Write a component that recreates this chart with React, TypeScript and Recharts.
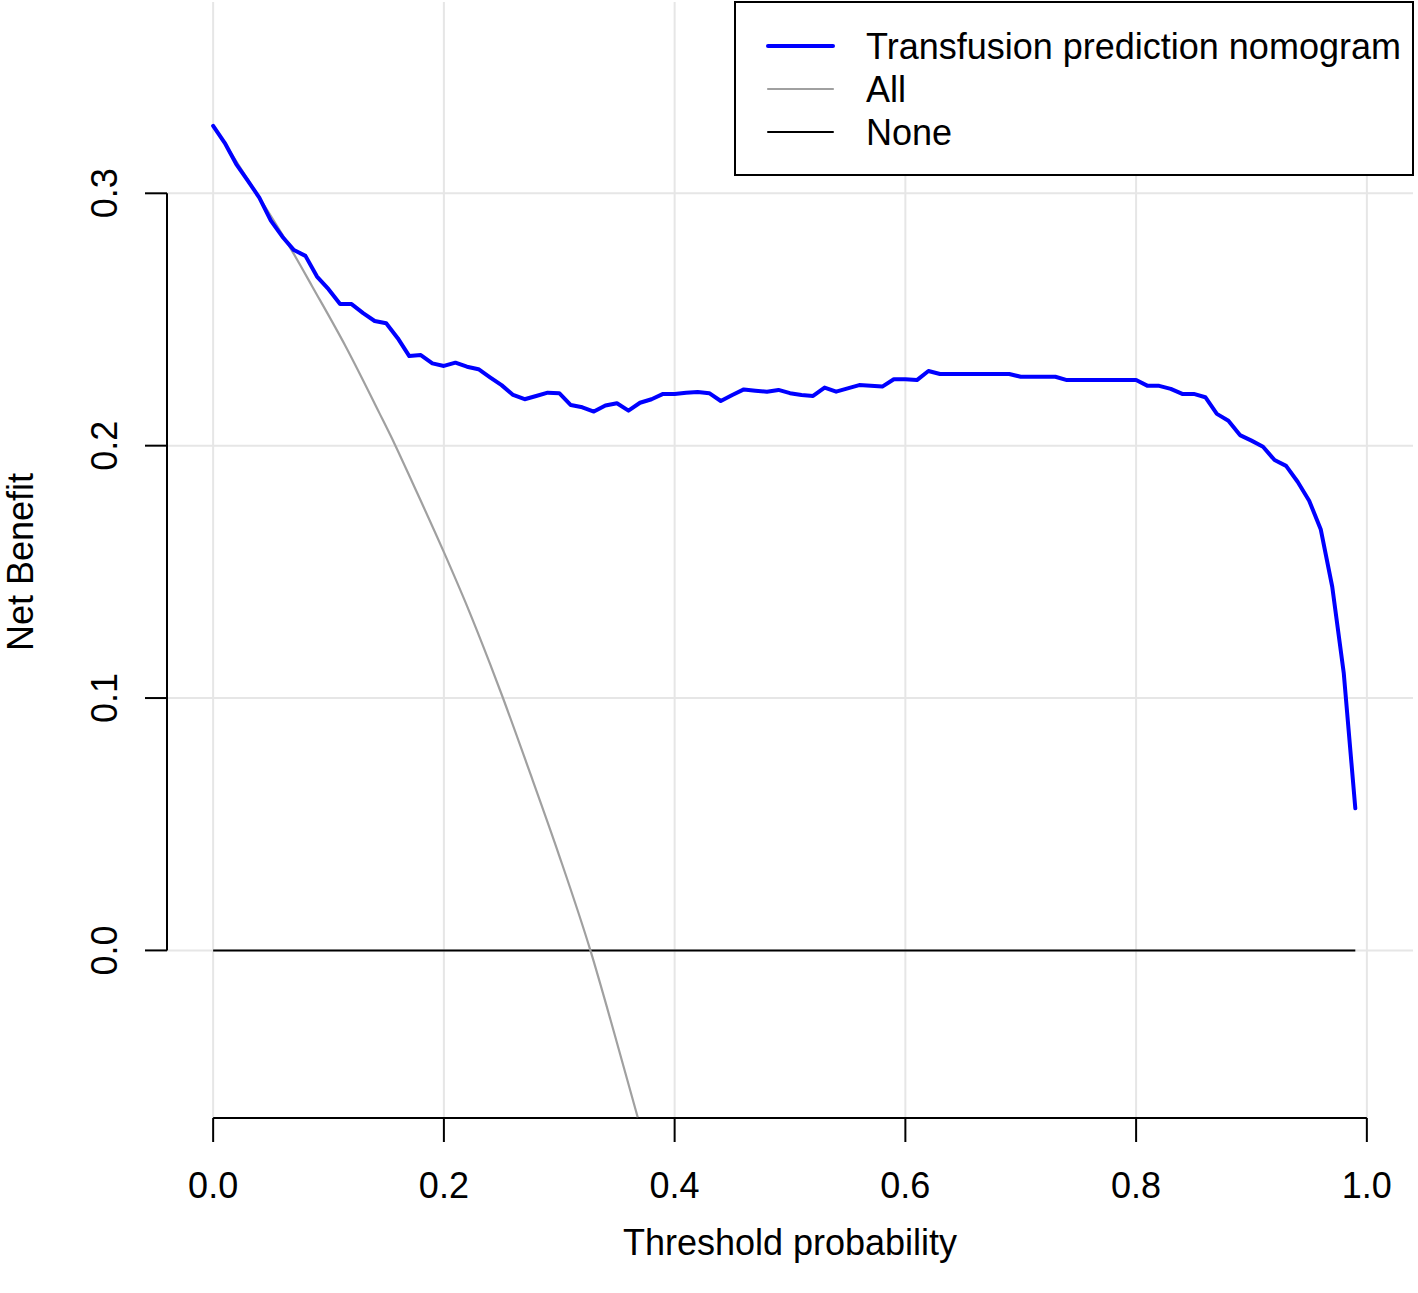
import React from "react"
import {
  LineChart,
  Line,
  XAxis,
  YAxis,
  CartesianGrid,
  ReferenceLine,
  Legend
} from "recharts"

const FONT = "'Liberation Sans', Arial, Helvetica, sans-serif"

// threshold probabilities 0.00 .. 0.99
const THRESHOLDS = Array.from({ length: 100 }, (_, i) => i / 100)

// net benefit of the nomogram
const NOMOGRAM_NB = [
  0.3267, 0.3200, 0.3116, 0.3050, 0.2983, 0.2892, 0.2828, 0.2775, 0.2752, 0.2670,
  0.2620, 0.2561, 0.2561, 0.2525, 0.2494, 0.2485, 0.2426, 0.2355, 0.2359, 0.2326,
  0.2316, 0.2329, 0.2313, 0.2303, 0.2271, 0.2240, 0.2201, 0.2184, 0.2197, 0.2210,
  0.2208, 0.2161, 0.2152, 0.2135, 0.2159, 0.2168, 0.2139, 0.2170, 0.2184, 0.2205,
  0.2205, 0.2210, 0.2213, 0.2208, 0.2177, 0.2201, 0.2223, 0.2218, 0.2214, 0.2221,
  0.2208, 0.2201, 0.2197, 0.2230, 0.2214, 0.2227, 0.2240, 0.2237, 0.2234, 0.2263,
  0.2263, 0.2260, 0.2296, 0.2284, 0.2284, 0.2284, 0.2284, 0.2284, 0.2284, 0.2284,
  0.2273, 0.2273, 0.2273, 0.2273, 0.2260, 0.2260, 0.2260, 0.2260, 0.2260, 0.2260,
  0.2260, 0.2237, 0.2237, 0.2225, 0.2205, 0.2205, 0.2192, 0.2126, 0.2099, 0.2042,
  0.2020, 0.1996, 0.1943, 0.1920, 0.1857, 0.1782, 0.1669, 0.1441, 0.1098, 0.0563,
]

// treat-all curve, sampled where it could be read
const ALL_PTS = [0, 0.03, 0.068, 0.086, 0.115, 0.144, 0.158, 0.173, 0.2, 0.22, 0.24, 0.25, 0.274, 0.3, 0.327, 0.348, 0.368]
const ALL_NB = [0.327, 0.3055, 0.2775, 0.263, 0.2392, 0.213, 0.2, 0.1851, 0.1578, 0.1365, 0.1135, 0.1015, 0.0712, 0.0375, 0, -0.0333, -0.0661]

// treat-none
const NONE_PTS = [0, 0.99]
const NONE_NB = [0, 0]

const X_TICKS = [0, 0.2, 0.4, 0.6, 0.8, 1]
const Y_TICKS = [0, 0.1, 0.2, 0.3]
const X_DOMAIN: [number, number] = [-0.04, 1.04]
const Y_DOMAIN: [number, number] = [-0.0664, 0.3758]

const LEGEND_ORDER = ["Transfusion prediction nomogram", "All", "None"]
const LEGEND_WIDTHS: Record<string, number> = {
  "Transfusion prediction nomogram": 4,
  All: 2.2,
  None: 2
}

const nomogramData = THRESHOLDS.map((pt, i) => ({ pt, nb: NOMOGRAM_NB[i] }))
const allData = ALL_PTS.map((pt, i) => ({ pt, nb: ALL_NB[i] }))
const noneData = NONE_PTS.map((pt, i) => ({ pt, nb: NONE_NB[i] }))

const XTick = (props: any) => {
  const { x, y, payload } = props
  return (
    <text x={x} y={y} dy="0.71em" textAnchor="middle" fontSize={36} fontFamily={FONT} fill="#000">
      {Number(payload.value).toFixed(1)}
    </text>
  )
}

const YTick = (props: any) => {
  const { x, y, payload } = props
  return (
    <text
      x={x}
      y={y}
      transform={`rotate(-90, ${x}, ${y})`}
      textAnchor="middle"
      fontSize={36}
      fontFamily={FONT}
      fill="#000"
    >
      {Number(payload.value).toFixed(1)}
    </text>
  )
}

const renderLegend = (props: any) => {
  const items = [...(props.payload || [])].sort(
    (a, b) => LEGEND_ORDER.indexOf(a.value) - LEGEND_ORDER.indexOf(b.value)
  )
  return (
    <svg width={680} height={176} style={{ display: "block" }}>
      <rect x={1} y={1} width={678} height={173} fill="#fff" stroke="#000" strokeWidth={2} />
      {items.map((item: any, i: number) => {
        const cy = 45 + i * 43
        return (
          <g key={item.value}>
            <line
              x1={34}
              x2={99}
              y1={cy}
              y2={cy}
              stroke={item.color}
              strokeWidth={LEGEND_WIDTHS[item.value] ?? 2}
              strokeLinecap="round"
            />
            <text x={132} y={cy} dy={13} fontSize={36} fontFamily={FONT} fill="#000">
              {item.value}
            </text>
          </g>
        )
      })}
    </svg>
  )
}

export default function App() {
  return (
    <div style={{ position: "absolute", left: 0, top: 0, width: 1418, height: 1293, background: "#fff" }}>
      <LineChart width={1418} height={1293} margin={{ top: 2, right: 5, left: 0, bottom: 0 }}>
        <CartesianGrid stroke="#e6e6e6" strokeWidth={2} syncWithTicks />
        <XAxis
          type="number"
          dataKey="pt"
          domain={X_DOMAIN}
          ticks={X_TICKS}
          allowDataOverflow
          height={175}
          axisLine={false}
          tickSize={24}
          tickMargin={30}
          tickLine={{ stroke: "#000", strokeWidth: 2 }}
          tick={<XTick />}
          label={{
            content: (p: any) => {
              const vb = p.viewBox || { x: 167, y: 1118, width: 1246 }
              return (
                <text
                  x={vb.x + vb.width / 2}
                  y={vb.y + 137}
                  textAnchor="middle"
                  fontSize={36}
                  fontFamily={FONT}
                  fill="#000"
                >
                  Threshold probability
                </text>
              )
            }
          }}
        />
        <YAxis
          type="number"
          domain={Y_DOMAIN}
          ticks={Y_TICKS}
          allowDataOverflow
          width={167}
          axisLine={false}
          tickSize={22}
          tickMargin={28}
          tickLine={{ stroke: "#000", strokeWidth: 2 }}
          tick={<YTick />}
          label={{
            content: (p: any) => {
              const vb = p.viewBox || { x: 0, y: 2, height: 1116 }
              const cx = vb.x + 33
              const cy = vb.y + vb.height / 2 + 2
              return (
                <text
                  x={cx}
                  y={cy}
                  transform={`rotate(-90, ${cx}, ${cy})`}
                  textAnchor="middle"
                  fontSize={36}
                  fontFamily={FONT}
                  fill="#000"
                >
                  Net Benefit
                </text>
              )
            }
          }}
        />
        {/* R style axis lines that only span the tick range */}
        <ReferenceLine
          segment={[{ x: X_DOMAIN[0], y: Y_TICKS[0] }, { x: X_DOMAIN[0], y: Y_TICKS[Y_TICKS.length - 1] }]}
          stroke="#000"
          strokeWidth={2}
          ifOverflow="visible"
        />
        <ReferenceLine
          segment={[{ x: X_TICKS[0], y: Y_DOMAIN[0] }, { x: X_TICKS[X_TICKS.length - 1], y: Y_DOMAIN[0] }]}
          stroke="#000"
          strokeWidth={2}
          ifOverflow="visible"
        />
        <Legend
          layout="horizontal"
          verticalAlign="middle"
          align="center"
          content={renderLegend}
          wrapperStyle={{ position: "absolute", left: 734, top: 1, width: 680, height: 176, margin: 0, padding: 0 }}
        />
        <Line
          data={noneData}
          dataKey="nb"
          name="None"
          type="linear"
          stroke="#000"
          strokeWidth={2}
          dot={false}
          activeDot={false}
          isAnimationActive={false}
        />
        <Line
          data={allData}
          dataKey="nb"
          name="All"
          type="monotone"
          stroke="#a0a0a0"
          strokeWidth={2.2}
          dot={false}
          activeDot={false}
          isAnimationActive={false}
        />
        <Line
          data={nomogramData}
          dataKey="nb"
          name="Transfusion prediction nomogram"
          type="linear"
          stroke="#0000ff"
          strokeWidth={4}
          strokeLinejoin="round"
          strokeLinecap="round"
          dot={false}
          activeDot={false}
          isAnimationActive={false}
        />
      </LineChart>
    </div>
  )
}
